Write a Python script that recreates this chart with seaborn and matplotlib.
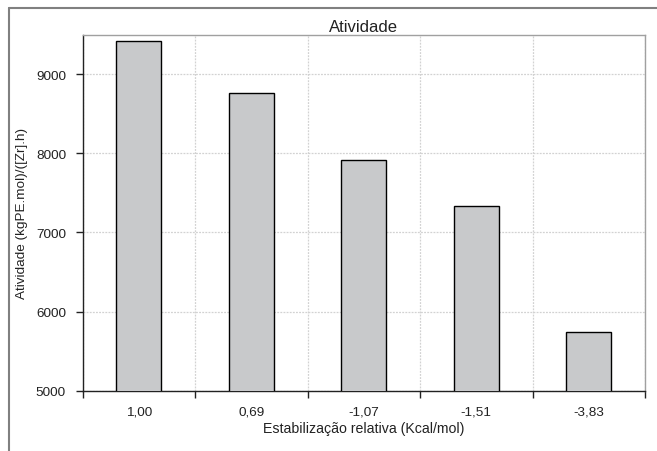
import matplotlib
matplotlib.use("Agg")
import matplotlib.pyplot as plt
from matplotlib.lines import Line2D
import seaborn as sns
import pandas as pd

categories = ["1,00", "0,69", "-1,07", "-1,51", "-3,83"]
values = [9415, 8760, 7920, 7340, 5740]
y_ticks = [5000, 6000, 7000, 8000, 9000]

sns.set_style("white")
plt.rcParams["font.family"] = ["Liberation Sans", "DejaVu Sans"]

df = pd.DataFrame({"cat": categories, "val": values})

W, H = 657, 452
fig = plt.figure(figsize=(W / 100, H / 100), dpi=100)
ax = fig.add_axes([82.7 / W, 1 - 391.7 / H, (645 - 82.7) / W, (391.7 - 35.7) / H])

sns.barplot(data=df, x="cat", y="val", order=categories, color="#c8c9cb",
            edgecolor="black", linewidth=1.0, width=0.4, saturation=1, ax=ax, zorder=3)

ax.set_xlim(-0.5, len(categories) - 0.5)
ax.set_ylim(5000, 9500)
ax.set_yticks(y_ticks)
ax.set_yticklabels([str(t) for t in y_ticks])

bounds = [i - 0.5 for i in range(len(categories) + 1)]
ax.set_xticks(bounds, minor=True)
ax.tick_params(axis="x", which="major", length=0, pad=11, labelsize=9.7, colors="#222222")
ax.tick_params(axis="x", which="minor", length=5, width=1, color="#222222", direction="out")
ax.tick_params(axis="y", which="major", length=5, width=1, color="#222222", direction="out",
               pad=7, labelsize=9.7, labelcolor="#222222")
ax.tick_params(axis="both", which="both", bottom=True, left=True)

ax.grid(False)
ax.yaxis.grid(True, which="major", color="#d2d2d2", linestyle=(0, (1.5, 1)), linewidth=0.9, zorder=0)
ax.xaxis.grid(True, which="minor", color="#d2d2d2", linestyle=(0, (1.5, 1)), linewidth=0.9, zorder=0)
ax.set_axisbelow(True)

for s in ["left", "bottom"]:
    ax.spines[s].set_visible(True)
    ax.spines[s].set_color("#222222")
    ax.spines[s].set_linewidth(1.0)
for s in ["top", "right"]:
    ax.spines[s].set_visible(True)
    ax.spines[s].set_color("#a0a0a0")
    ax.spines[s].set_linewidth(1.0)

ax.set_xlabel("Estabilização relativa (Kcal/mol)", fontsize=10.2, labelpad=2, color="#222222")
ax.set_ylabel("Atividade (kgPE.mol)/([Zr].h)", fontsize=9.7, labelpad=6, color="#222222")
ax.set_title("Atividade", fontsize=12, pad=3, color="#222222")

fig.add_artist(Line2D([9 / W, 9 / W], [0, 1 - 9 / H], color="#808080", linewidth=1.5,
                      transform=fig.transFigure))
fig.add_artist(Line2D([9 / W, 1], [1 - 9 / H, 1 - 9 / H], color="#808080", linewidth=1.5,
                      transform=fig.transFigure))

fig.savefig("out.png", dpi=100)
